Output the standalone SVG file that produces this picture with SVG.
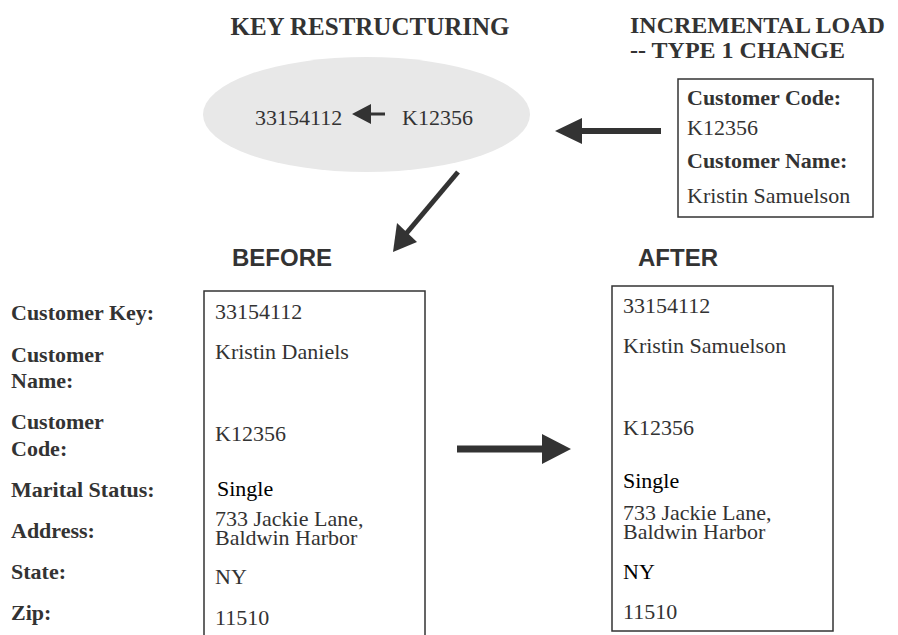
<svg xmlns="http://www.w3.org/2000/svg" width="898" height="635" viewBox="0 0 898 635">
<style>
.title{font-family:"Liberation Serif","Times New Roman",serif;font-weight:bold;font-size:24px;fill:#333}
.hd{font-family:"Liberation Sans",Arial,sans-serif;font-weight:bold;font-size:24px;fill:#333}
.lbl{font-family:"Liberation Serif","Times New Roman",serif;font-weight:bold;font-size:22px;fill:#333}
.val{font-family:"Liberation Serif","Times New Roman",serif;font-size:22px;fill:#333}
.blk{fill:#000}
.box{fill:#fff;stroke:#333;stroke-width:1.5}
.arw{fill:#333}
</style>
<rect width="898" height="635" fill="#fff"/>
<g id="key-restructuring">
<text class="title" x="370" y="35" text-anchor="middle" style="font-size:25px">KEY RESTRUCTURING</text>
<ellipse cx="366.5" cy="114.5" rx="163.5" ry="57.5" fill="#e8e8e8"/>
<text class="val" x="255" y="125">33154112</text>
<polygon class="arw" points="352,114 371,104 371,112.5 385,112.5 385,115.5 371,115.5 371,124"/>
<text class="val" x="402" y="125">K12356</text>
</g>
<g id="incremental-load">
<text class="title" x="630" y="33">INCREMENTAL LOAD</text>
<text class="title" x="630" y="58">-- TYPE 1 CHANGE</text>
<rect class="box" x="678" y="79" width="195" height="138"/>
<text class="lbl" x="687" y="105">Customer Code:</text>
<text class="val" x="687" y="135">K12356</text>
<text class="lbl" x="687" y="168">Customer Name:</text>
<text class="val" x="687" y="203">Kristin Samuelson</text>
</g>
<g id="labels">
<text class="lbl" x="11" y="320">Customer Key:</text>
<text class="lbl" x="11" y="362">Customer</text>
<text class="lbl" x="11" y="388">Name:</text>
<text class="lbl" x="11" y="429">Customer</text>
<text class="lbl" x="11" y="456">Code:</text>
<text class="lbl" x="11" y="497">Marital Status:</text>
<text class="lbl" x="11" y="538">Address:</text>
<text class="lbl" x="11" y="579">State:</text>
<text class="lbl" x="11" y="620">Zip:</text>
</g>
<g id="before">
<text class="hd" x="232" y="266">BEFORE</text>
<rect class="box" x="204" y="291" width="221" height="360"/>
<text class="val" x="215" y="319">33154112</text>
<text class="val" x="215" y="359">Kristin Daniels</text>
<text class="val" x="215" y="441">K12356</text>
<text class="val blk" x="217" y="496">Single</text>
<text class="val" x="215" y="526">733 Jackie Lane,<tspan x="215" dy="19">Baldwin Harbor</tspan></text>
<text class="val" x="215" y="584">NY</text>
<text class="val" x="215" y="625">11510</text>
</g>
<g id="after">
<text class="hd" x="638" y="266">AFTER</text>
<rect class="box" x="612" y="286" width="221" height="345"/>
<text class="val" x="623" y="313">33154112</text>
<text class="val" x="623" y="353">Kristin Samuelson</text>
<text class="val" x="623" y="435">K12356</text>
<text class="val blk" x="623" y="488">Single</text>
<text class="val" x="623" y="520">733 Jackie Lane,<tspan x="623" dy="19">Baldwin Harbor</tspan></text>
<text class="val blk" x="623" y="579">NY</text>
<text class="val" x="623" y="619">11510</text>
</g>
<g id="connectors">
<polygon class="arw" points="555,131 582,118 582,128 661,128 661,134 582,134 582,144"/>
<line x1="458" y1="172" x2="405" y2="235" stroke="#333" stroke-width="5"/>
<polygon class="arw" points="393,252 397,223 417,242"/>
<polygon class="arw" points="457,445.5 542,445.5 542,434 571,449 542,464 542,452.5 457,452.5"/>
</g>
</svg>
